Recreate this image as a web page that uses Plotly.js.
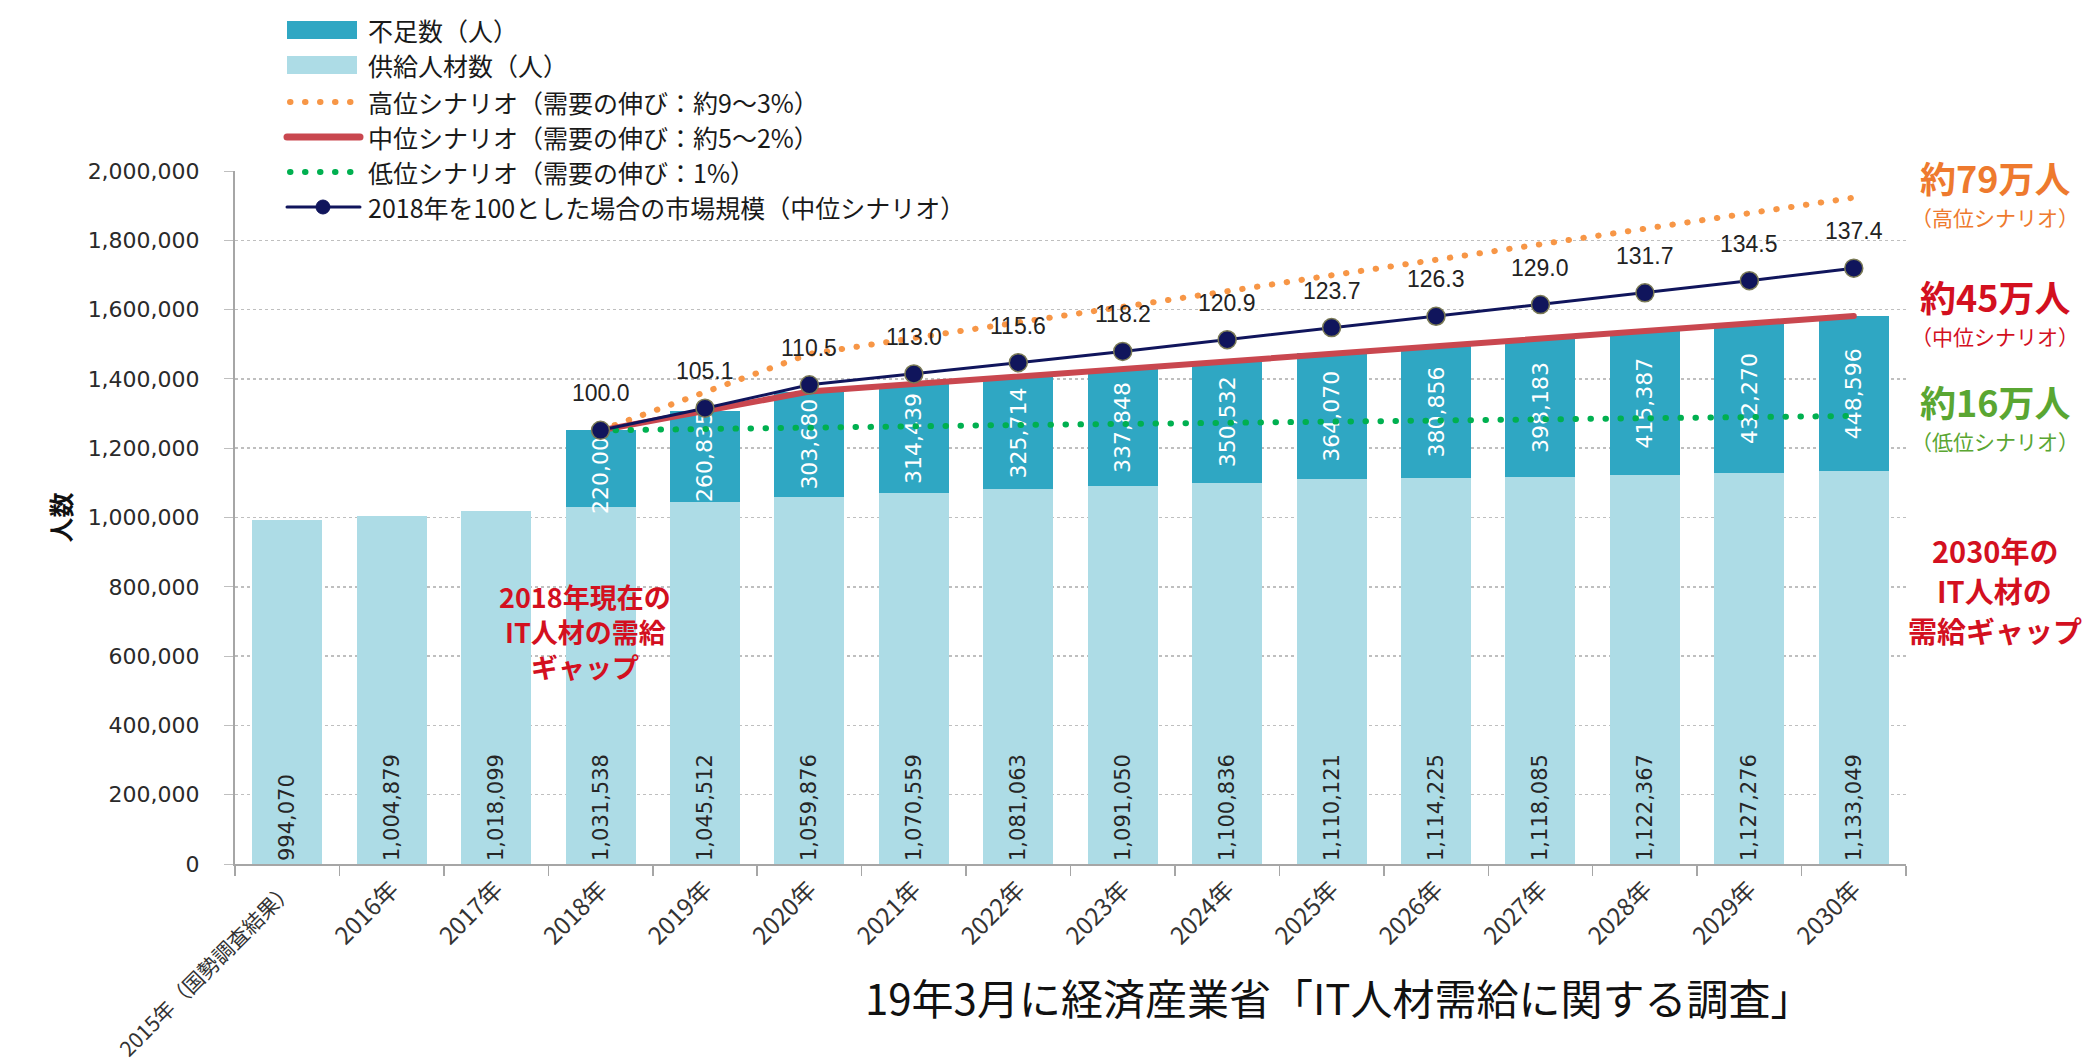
<!DOCTYPE html>
<html><head><meta charset="utf-8">
<script src="https://cdn.plot.ly/plotly-3.0.1.min.js"></script>
<style>
html,body{margin:0;padding:0;background:#fff;}
.scatterlayer .js-line{stroke-linecap:round;}
.shapelayer path{stroke-linecap:round;}
</style>
</head><body>
<div id="chart" style="width:2090px;height:1064px;"></div>
<script>
// ---- data ----
const years = ['2015年（国勢調査結果）','2016年','2017年','2018年','2019年','2020年','2021年','2022年','2023年','2024年','2025年','2026年','2027年','2028年','2029年','2030年'];
const supply = [994070,1004879,1018099,1031538,1045512,1059876,1070559,1081063,1091050,1100836,1110121,1114225,1118085,1122367,1127276,1133049];
const shortage = [null,null,null,220000,260835,303680,314439,325714,337848,350532,364070,380856,398183,415387,432270,448596];
const highScenario = [null,null,null,1251538,1362000,1472000,1518000,1562000,1607000,1653000,1699000,1744000,1787000,1830000,1875000,1923049];
const midScenario = [null,null,null,1251538,1306347,1363556,1384998,1406777,1428898,1451368,1474191,1495081,1516268,1537754,1559546,1581645];
const lowScenario = [null,null,null,1251538,1256000,1261000,1264000,1267000,1270000,1273000,1277000,1280000,1284000,1287000,1290000,1293049];
const marketIndex = [null,null,null,100.0,105.1,110.5,113.0,115.6,118.2,120.9,123.7,126.3,129.0,131.7,134.5,137.4];
const legendLabels = ['不足数（人）','供給人材数（人）','高位シナリオ（需要の伸び：約9～3%）','中位シナリオ（需要の伸び：約5～2%）','低位シナリオ（需要の伸び：1%）','2018年を100とした場合の市場規模（中位シナリオ）'];

// ---- style ----
const C_SUPPLY = '#ADDCE6', C_SHORT = '#2FA7C3', C_HIGH = '#F79646', C_MID = '#C9474F', C_LOW = '#00B050', C_NAVY = '#10155C';
const C_RED = '#D3101F', C_ORANGE = '#EE7A2E', C_GREEN = '#5AA632';
const JP = '"Noto Sans CJK JP", "Noto Sans", sans-serif';
const NUM = '"DejaVu Sans", sans-serif';
const L = 235, R = 1906, T = 171, B = 864;
const px = x => (x - L) / (R - L);
const py = y => (B - y) / (B - T);
const fmt = v => v == null ? '' : v.toLocaleString('en-US');
const base2018 = midScenario[3];
const tickText = years.map((y, i) => i === 0 ? '<span style="font-size:21px">' + y + '</span>' : y);

const traces = [
  {type:'bar', x:years, y:supply, name:legendLabels[1], marker:{color:C_SUPPLY},
   text:supply.map(fmt), textposition:'inside', insidetextanchor:'start', textangle:-90, constraintext:'none',
   insidetextfont:{family:NUM, size:21, color:'#262626'}, showlegend:false},
  {type:'bar', x:years, y:shortage, name:legendLabels[0], marker:{color:C_SHORT},
   text:shortage.map(fmt), textposition:'inside', insidetextanchor:'middle', textangle:-90, constraintext:'none',
   insidetextfont:{family:NUM, size:22, color:'#FFFFFF'}, showlegend:false},
  {type:'scatter', mode:'lines', x:years, y:highScenario, name:legendLabels[2],
   line:{color:C_HIGH, width:6, dash:'0.5px,14.5px'}, showlegend:false},
  {type:'scatter', mode:'lines', x:years, y:midScenario, name:legendLabels[3],
   line:{color:C_MID, width:6}, showlegend:false},
  {type:'scatter', mode:'lines', x:years, y:lowScenario, name:legendLabels[4],
   line:{color:C_LOW, width:6, dash:'0.5px,14.5px'}, showlegend:false},
  {type:'scatter', mode:'lines+markers', x:years, y:marketIndex, yaxis:'y2', name:legendLabels[5],
   line:{color:C_NAVY, width:3}, marker:{color:C_NAVY, size:18, line:{color:'#7a7a55', width:1.5}}, showlegend:false}
];

const annotations = [];
// market index labels
years.forEach((yr, i) => {
  if (marketIndex[i] == null) return;
  annotations.push({x:yr, y:marketIndex[i], xref:'x', yref:'y2', text:marketIndex[i].toFixed(1),
    showarrow:false, yanchor:'bottom', yshift:22, font:{family:'"Liberation Sans", Arial, sans-serif', size:23, color:'#222'}});
});
// legend texts
const legY = [30, 65, 102, 137, 172, 207];
legendLabels.forEach((t, i) => {
  annotations.push({x:px(366), y:py(legY[i]), xref:'paper', yref:'paper', xanchor:'left', yanchor:'middle',
    text:t, showarrow:false, font:{family:JP, size:25, color:'#1a1a1a'}});
});
// right-side notes
const note = (text, y, size, color) => annotations.push({x:px(1995), y:py(y), xref:'paper', yref:'paper', xanchor:'center', yanchor:'middle', text, showarrow:false, font:{family:JP, size, color}});
note('<b>約79万人</b>', 177, 36, C_ORANGE);
note('（高位シナリオ）', 217, 21, C_ORANGE);
note('<b>約45万人</b>', 296, 36, C_RED);
note('（中位シナリオ）', 336, 21, C_RED);
note('<b>約16万人</b>', 401, 36, C_GREEN);
note('（低位シナリオ）', 441, 21, C_GREEN);
note('<b>2030年の</b>', 550, 29, C_RED);
note('<b>IT人材の</b>', 590, 29, C_RED);
note('<b>需給ギャップ</b>', 630, 29, C_RED);
const note2 = (text, y) => annotations.push({x:px(585), y:py(y), xref:'paper', yref:'paper', xanchor:'center', yanchor:'middle', text, showarrow:false, font:{family:JP, size:27, color:C_RED}});
note2('<b>2018年現在の</b>', 596);
note2('<b>IT人材の需給</b>', 631);
note2('<b>ギャップ</b>', 666);
annotations.push({x:px(1338), y:py(997), xref:'paper', yref:'paper', xanchor:'center', yanchor:'middle', showarrow:false,
  text:'19年3月に経済産業省「IT人材需給に関する調査」', font:{family:JP, size:42, color:'#111'}});

// custom legend swatches
const shapes = [
  {type:'rect', xref:'paper', yref:'paper', x0:px(287), x1:px(357), y0:py(39), y1:py(21), fillcolor:C_SHORT, line:{width:0}},
  {type:'rect', xref:'paper', yref:'paper', x0:px(287), x1:px(357), y0:py(74), y1:py(56), fillcolor:C_SUPPLY, line:{width:0}},
  {type:'line', xref:'paper', yref:'paper', x0:px(290), x1:px(355), y0:py(102), y1:py(102), line:{color:C_HIGH, width:6, dash:'0.5px,14.5px'}},
  {type:'line', xref:'paper', yref:'paper', x0:px(287), x1:px(360), y0:py(137), y1:py(137), line:{color:C_MID, width:7}},
  {type:'line', xref:'paper', yref:'paper', x0:px(290), x1:px(355), y0:py(172), y1:py(172), line:{color:C_LOW, width:6, dash:'0.5px,14.5px'}},
  {type:'line', xref:'paper', yref:'paper', x0:px(287), x1:px(360), y0:py(207), y1:py(207), line:{color:C_NAVY, width:3}},
  {type:'circle', xref:'paper', yref:'paper', x0:px(316), x1:px(330), y0:py(214), y1:py(200), fillcolor:C_NAVY, line:{color:C_NAVY, width:1}}
];

const layout = {
  width:2090, height:1064,
  margin:{l:L, r:2090-R, t:T, b:1064-B, pad:0},
  paper_bgcolor:'#fff', plot_bgcolor:'#fff',
  barmode:'stack', bargap:0.33,
  showlegend:false,
  font:{family:JP, color:'#333'},
  xaxis:{type:'category', range:[-0.5, years.length - 0.5], autorange:false, tickson:'boundaries', ticks:'outside', ticklen:10, tickcolor:'#A6A6A6', tickwidth:1.5,
    showline:true, linecolor:'#A6A6A6', linewidth:2, showgrid:false, tickangle:-45,
    tickvals:years, ticktext:tickText,
    tickfont:{family:JP, size:24, color:'#333'}, automargin:false},
  yaxis:{range:[0,2000000], autorange:false, dtick:200000, tickformat:',d', showline:true, linecolor:'#A6A6A6', linewidth:2,
    ticks:'outside', ticklen:9, tickcolor:'#BFBFBF', showgrid:true, gridcolor:'#BFBFBF', griddash:'dot', gridwidth:1.5,
    zeroline:false, tickfont:{family:NUM, size:22, color:'#2a2a2a'}, ticklabelstandoff:20, automargin:false,
    title:{text:'<b>人数</b>', font:{family:JP, size:25, color:'#111'}, standoff:9}},
  yaxis2:{overlaying:'y', range:[0, 2000000 / base2018 * 100], autorange:false, visible:false, fixedrange:true},
  annotations, shapes,
  hovermode:false
};

Plotly.newPlot('chart', traces, layout, {staticPlot:true, displayModeBar:false});
</script>
</body></html>
